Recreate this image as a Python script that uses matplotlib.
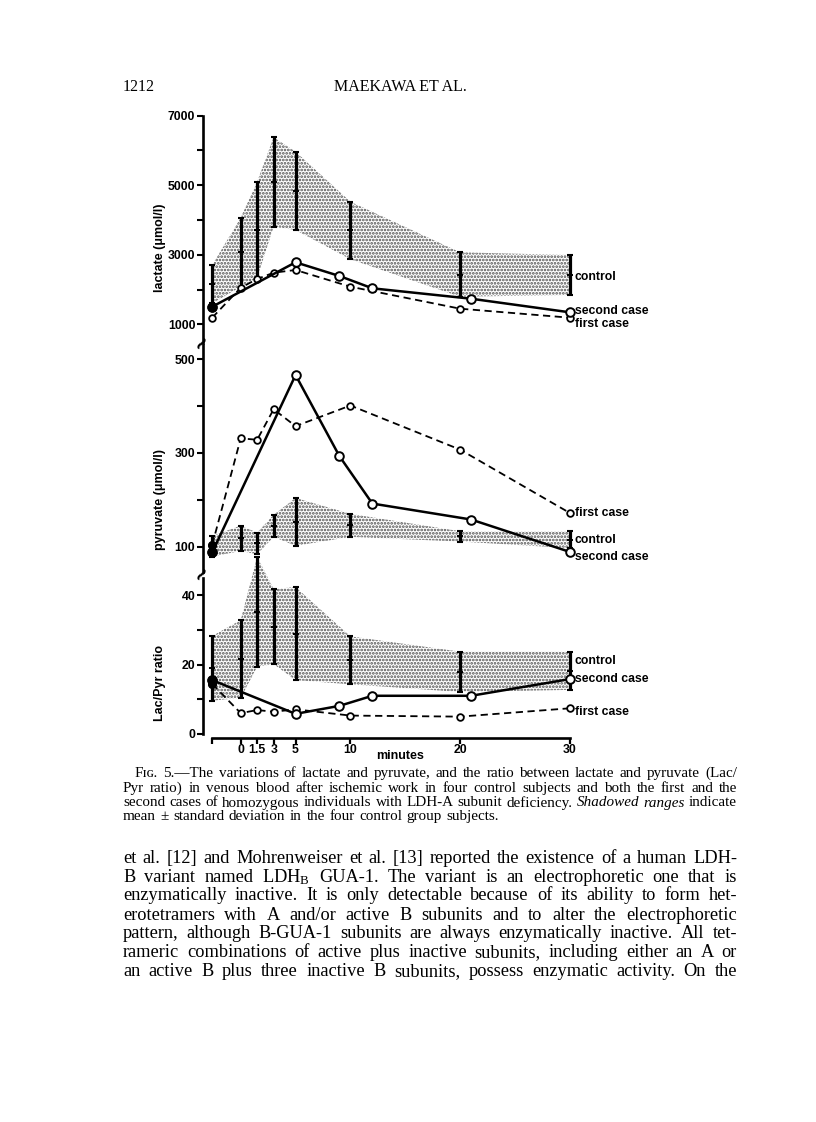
import matplotlib
matplotlib.use('Agg')
import matplotlib.pyplot as plt
import numpy as np

plt.rcParams['font.family'] = ['Liberation Sans', 'DejaVu Sans']
plt.rcParams['hatch.linewidth'] = 1.3
plt.rcParams['mathtext.fontset'] = 'custom'
plt.rcParams['mathtext.rm'] = 'Liberation Serif'
plt.rcParams['mathtext.it'] = 'Liberation Serif:italic'

# ---------------- data ----------------
times_ctrl = [-2.6, 0, 1.5, 3, 5, 10, 20, 30]
times_first = [-2.6, 0, 1.5, 3, 5, 10, 20, 30]
times_second = [-2.6, 5, 9, 12, 21, 30]
x_tick_values = [-2.6, 0, 1.5, 3, 5, 10, 20, 30]
x_tick_labels = ['', '0', '1.5', '3', '5', '10', '20', '30']

lactate_ctrl_mean = [2155, 3073, 3720, 5092, 4838, 3698, 2432, 2418]
lactate_ctrl_sd = [550, 993, 1380, 1285, 1126, 828, 638, 575]
lactate_first = [1190, 2053, 2303, 2484, 2562, 2081, 1449, 1190]
lactate_second = [1506, 2783, 2389, 2035, 1736, 1345]

pyruvate_ctrl_mean = [101, 118, 107, 144.5, 153, 145.5, 122, 115]
pyruvate_ctrl_sd = [22, 27, 23, 23.5, 51, 24.5, 11, 18]
pyruvate_first = [104, 331, 328, 393, 357, 401, 307, 172]
pyruvate_second = [88, 466, 293, 192, 158, 89]

ratio_ctrl_mean = [18.9, 21.6, 35.2, 30.9, 28.9, 21.2, 17.9, 18.2]
ratio_ctrl_sd = [9.3, 11.2, 15.8, 10.8, 13.4, 6.9, 5.8, 5.5]
ratio_first = [14.4, 6.0, 6.9, 6.4, 7.1, 5.3, 5.0, 7.4]
ratio_second = [15.5, 5.8, 8.1, 11.0, 11.0, 15.8]

lactate_ticks = [1000, 3000, 5000, 7000]
lactate_minor = [2000, 4000, 6000]
pyruvate_ticks = [100, 300, 500]
pyruvate_minor = [200, 400]
ratio_ticks = [0, 20, 40]
ratio_minor = [10, 30]

# label y-positions (data units) for the series names at the right
lactate_names = [('control', 2370), ('second case', 1383), ('first case', 1000)]
pyruvate_names = [('first case', 172), ('control', 114), ('second case', 79)]
ratio_names = [('control', 21.1), ('second case', 15.7), ('first case', 6.4)]

# ---------------- figure ----------------
W, H = 816, 1122
fig = plt.figure(figsize=(W / 100, H / 100), dpi=100)
fig.patch.set_facecolor('white')

def rect(l, t, r, b):
    return [l / W, 1 - b / H, (r - l) / W, (b - t) / H]

XL, XR = 203, 591.7
XLIM = (-3.44, 32)
TICKFS = 8.8

def panel(box, ylim, mean, sd, first, second, ticks, minor, names,
          clip=True, fill_first_pre=True):
    ax = fig.add_axes(rect(XL, box[0], XR, box[1]))
    ax.set_xlim(*XLIM)
    ax.set_ylim(*ylim)
    ax.patch.set_alpha(0)
    mean = np.asarray(mean, float)
    sd = np.asarray(sd, float)
    fb = ax.fill_between(times_ctrl, mean - sd, mean + sd, facecolor='white',
                         edgecolor='#505050', hatch='.....', linewidth=0, zorder=1)
    fb.set_clip_on(clip)
    eb = ax.errorbar(times_ctrl, mean, yerr=sd, fmt='none', ecolor='black',
                     elinewidth=2.3, capsize=2.3, capthick=1.5, zorder=3)
    for a in eb.get_children():
        a.set_clip_on(clip)
    ax.plot(times_ctrl, mean, ls='none', marker='_', ms=5, mew=1.4,
            color='black', zorder=3, clip_on=clip)
    ax.plot(times_first, first, ls=(0, (4, 2.5)), color='black', lw=1.3,
            marker='o', ms=4.8, mfc='white', mec='black', mew=1.3, zorder=4,
            clip_on=False)
    ax.plot(times_second, second, ls='-', color='black', lw=1.8,
            marker='o', ms=6.2, mfc='white', mec='black', mew=1.4, zorder=5,
            clip_on=False)
    # pre-exercise samples drawn as filled dots
    ax.plot(times_second[:1], second[:1], ls='none', marker='o', ms=6.2,
            color='black', zorder=6, clip_on=False)
    if fill_first_pre:
        ax.plot(times_first[:1], first[:1], ls='none', marker='o', ms=5.5,
                color='black', zorder=6, clip_on=False)
    for s in ('top', 'right', 'bottom'):
        ax.spines[s].set_visible(False)
    ax.spines['left'].set_linewidth(1.9)
    ax.set_yticks(ticks)
    ax.set_yticklabels([str(v) for v in ticks], fontweight='bold', fontsize=TICKFS)
    ax.set_yticks(minor, minor=True)
    ax.tick_params(axis='y', which='both', direction='out', length=4.5,
                   width=1.5, pad=1)
    ax.set_xticks([])
    for name, yv in names:
        ax.text(30.45, yv, name, fontsize=TICKFS, fontweight='bold',
                va='center', ha='left')
    return ax

ax1 = panel((115.7, 343), (462, 7000), lactate_ctrl_mean, lactate_ctrl_sd,
            lactate_first, lactate_second, lactate_ticks, lactate_minor, lactate_names,
            fill_first_pre=False)
ax2 = panel((345, 572), (46.1, 530), pyruvate_ctrl_mean, pyruvate_ctrl_sd,
            pyruvate_first, pyruvate_second, pyruvate_ticks, pyruvate_minor, pyruvate_names)
ax3 = panel((578, 734), (0, 44.9), ratio_ctrl_mean, ratio_ctrl_sd,
            ratio_first, ratio_second, ratio_ticks, ratio_minor, ratio_names, clip=False)

ax3.spines['bottom'].set_visible(True)
ax3.spines['bottom'].set_linewidth(1.9)
ax3.spines['bottom'].set_position(('outward', 3))
ax3.spines['bottom'].set_bounds(x_tick_values[0], x_tick_values[-1])
ax3.set_xticks(x_tick_values)
ax3.set_xticklabels(x_tick_labels, fontweight='bold', fontsize=TICKFS)
ax3.tick_params(axis='x', direction='out', length=4, width=1.6, pad=0.3)

# axis titles
fig.text(160 / W, 1 - 248 / H, 'lactate (\u03bcmol/l)', rotation=90, ha='center',
         va='center', fontweight='bold', fontsize=9)
fig.text(160 / W, 1 - 500 / H, 'pyruvate (\u03bcmol/l)', rotation=90, ha='center',
         va='center', fontweight='bold', fontsize=9)
fig.text(160 / W, 1 - 683 / H, 'Lac/Pyr ratio', rotation=90, ha='center',
         va='center', fontweight='bold', fontsize=9)
fig.text(400 / W, 1 - 756 / H, 'minutes', ha='center', va='center',
         fontweight='bold', fontsize=9)

# axis-break marks
for yb in (344, 575):
    fig.text(XL / W, 1 - yb / H, '~', ha='center', va='center', fontsize=17,
             fontweight='bold', rotation=55)

# ---------------- page text ----------------
SERIF = 'Liberation Serif'
fig.text(123 / W, 1 - 91 / H, '1212', family=SERIF, fontsize=11.5, ha='left',
         va='baseline')
fig.text(400 / W, 1 - 91 / H, 'MAEKAWA ET AL.', family=SERIF, fontsize=11.5,
         ha='center', va='baseline')

renderer = fig.canvas.get_renderer()

def set_line(words, x0, x1, y_base, size, justify=True):
    arts = []
    for w in words:
        if isinstance(w, tuple):
            txt, kw = w
        else:
            txt, kw = w, {}
        kw = dict(kw)
        fam = kw.pop('family', SERIF)
        t = fig.text(x0 / W, 1 - y_base / H, txt, family=fam, fontsize=size,
                     ha='left', va='baseline', **kw)
        arts.append(t)
    widths = [a.get_window_extent(renderer).width for a in arts]
    if justify and len(arts) > 1:
        gap = (x1 - x0 - sum(widths)) / (len(arts) - 1)
    else:
        gap = size * 100 / 72 * 0.3
    x = x0
    for a, wd in zip(arts, widths):
        a.set_x(x / W)
        x += wd + gap

IT = {'style': 'italic'}
SC = {'family': ['Liberation Serif', 'DejaVu Serif']}
caption = [
    ([('F\u026a\u0262.', SC), '5.\u2014The', 'variations', 'of', 'lactate', 'and', 'pyruvate,', 'and', 'the',
      'ratio', 'between', 'lactate', 'and', 'pyruvate', '(Lac/'], 135, True),
    (['Pyr', 'ratio)', 'in', 'venous', 'blood', 'after', 'ischemic', 'work', 'in', 'four',
      'control', 'subjects', 'and', 'both', 'the', 'first', 'and', 'the'], 123, True),
    (['second', 'cases', 'of', 'homozygous', 'individuals', 'with', 'LDH-A', 'subunit',
      'deficiency.', ('Shadowed', IT), ('ranges', IT), 'indicate'], 123, True),
    (['mean', '\u00b1', 'standard', 'deviation', 'in', 'the', 'four', 'control', 'group',
      'subjects.'], 123, False),
]
cap_base = [777, 792, 806.5, 820]
for (words, x0, just), yb in zip(caption, cap_base):
    set_line(words, x0, 737, yb, 10.9, just)

body = [
    'et al. [12] and Mohrenweiser et al. [13] reported the existence of a human LDH-',
    'B variant named LDH$_\\mathrm{B}$ GUA-1. The variant is an electrophoretic one that is',
    'enzymatically inactive. It is only detectable because of its ability to form het-',
    'erotetramers with A and/or active B subunits and to alter the electrophoretic',
    'pattern, although B-GUA-1 subunits are always enzymatically inactive. All tet-',
    'rameric combinations of active plus inactive subunits, including either an A or',
    'an active B plus three inactive B subunits, possess enzymatic activity. On the',
]
body_base = [863, 882, 900.5, 919.5, 938.5, 957, 976]
for line, yb in zip(body, body_base):
    set_line(line.split(' '), 123, 737, yb, 13.2, True)

fig.savefig('out.png', dpi=100, facecolor='white')
